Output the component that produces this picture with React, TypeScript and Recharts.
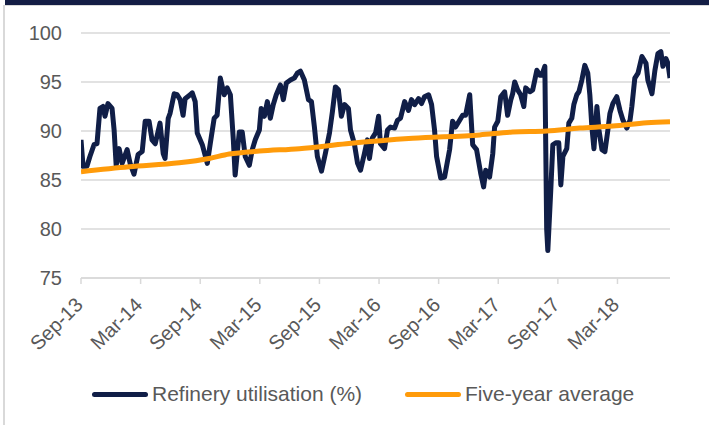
import { LineChart, Line, XAxis, YAxis, CartesianGrid, Legend } from 'recharts'

// weeks since early Sep 2013
const utilWeeks = [
  0, 0.9, 2.6, 3.9, 5.7, 7.0, 8.3, 9.6, 10.5, 11.8, 13.6, 14.5, 15.4, 16.7, 18.0, 20.2,
  21.5, 23.2, 25.0, 26.8, 28.1, 29.8, 31.1, 32.5, 34.6, 36.0, 36.8, 38.2, 39.0, 40.8,
  42.1, 43.4, 44.7, 45.6, 47.8, 48.7, 50.0, 50.9, 53.1, 55.3, 56.6, 58.3, 59.6, 61.0,
  62.7, 64.0, 65.4, 66.7, 67.5, 69.3, 70.6, 71.9, 73.7, 75.0, 76.3, 78.1, 78.9, 80.3,
  81.6, 82.9, 84.2, 85.5, 87.3, 88.6, 89.9, 91.7, 93.4, 94.7, 96.1, 97.8, 99.6, 100.9,
  102.2, 103.5, 105.3, 107.0, 108.8, 110.1, 111.4, 112.7, 114.0, 115.4, 117.1, 118.0,
  119.7, 121.1, 122.4, 124.1, 125.4, 126.3, 127.6, 129.0, 130.3, 131.1, 132.9, 134.2,
  135.5, 137.3, 138.6, 139.9, 141.7, 143.4, 144.7, 146.1, 147.8, 149.1, 150.4, 152.2,
  153.5, 154.8, 155.7, 157.5, 159.2, 161.4, 162.7, 164.0, 165.8, 167.1, 168.4, 170.2,
  171.5, 173.2, 175.0, 176.3, 177.2, 178.9, 180.3, 181.1, 182.5, 183.8, 185.5, 186.8,
  188.2, 189.0, 189.9, 191.2, 192.5, 193.9, 194.7, 196.5, 197.8, 198.7, 199.6, 200.9,
  201.8, 203.1, 203.9, 204.4, 205.7, 206.6, 207.9, 209.2, 210.1, 211.0, 212.7, 213.6,
  214.9, 215.8, 217.1, 218.0, 219.3, 220.6, 221.9, 222.8, 223.7, 224.6, 225.9, 226.8,
  228.1, 229.4, 230.7, 231.6, 232.9, 234.6, 236.0, 237.3, 239.0, 240.4, 241.2, 242.5,
  243.9, 245.6, 247.4, 248.2, 250.0, 251.3, 252.6, 253.9, 254.8, 256.1, 257.0, 257.9,
]

const utilValues = [
  89.1, 86.4, 86.4, 87.4, 88.6, 88.7, 92.3, 92.5, 91.5, 92.8, 92.3, 90.1, 86.5, 88.2, 86.7, 88.1,
  86.7, 85.6, 87.6, 87.9, 91.0, 91.0, 89.1, 88.7, 90.8, 87.7, 87.2, 91.3, 91.8, 93.8,
  93.7, 93.2, 91.6, 93.3, 93.7, 93.9, 93.0, 89.8, 88.6, 86.7, 88.7, 91.3, 91.6, 95.4,
  93.7, 94.4, 93.7, 89.1, 85.5, 89.9, 89.9, 87.4, 86.5, 88.1, 89.1, 90.1, 92.3, 91.5,
  93.0, 91.3, 92.7, 93.7, 94.7, 93.2, 94.9, 95.2, 95.4, 95.9, 96.1, 95.2, 93.2, 93.0,
  90.4, 87.4, 85.9, 87.7, 89.8, 92.0, 94.5, 94.2, 91.5, 92.7, 92.3, 90.1,
  88.7, 86.7, 86.0, 87.7, 89.1, 87.2, 89.3, 89.8, 91.5, 88.7, 88.2, 90.1,
  90.4, 90.3, 91.1, 91.3, 93.0, 92.1, 93.2, 92.7, 93.3, 92.8, 93.5, 93.7,
  92.7, 90.1, 87.4, 85.2, 85.3, 88.1, 91.0, 90.4, 91.1, 91.6, 91.6, 93.7,
  88.6, 88.1, 85.7, 84.3, 86.0, 85.3, 87.7, 90.4, 91.0, 93.5, 94.0, 91.6,
  93.2, 93.8, 95.0, 94.2, 93.7, 92.5, 94.4, 94.0, 94.2, 95.2, 96.2, 95.7,
  95.7, 96.6, 80.0, 77.8, 84.0, 88.6, 88.8, 88.8, 84.5, 87.4, 88.2, 90.8,
  91.3, 92.7, 93.7, 94.0, 95.2, 96.7, 95.9, 93.7, 90.4, 88.2, 92.5, 90.1,
  88.1, 87.9, 90.1, 91.8, 92.8, 93.5, 92.1, 91.1, 90.3, 91.1, 92.5, 95.4,
  95.9, 97.6, 96.9, 95.2, 93.8, 96.2, 97.9, 98.1, 96.6, 97.4, 96.9, 95.4,
]

const avgWeeks = [0, 21.1, 43.0, 56.1, 64.9, 78.1, 95.6, 116.2, 145.2, 174.6, 189.0, 203.9, 218.4, 232.9, 247.8, 257.9]
const avgValues = [85.85, 86.35, 86.75, 87.2, 87.65, 87.95, 88.2, 88.7, 89.25, 89.6, 89.9, 90.0, 90.3, 90.5, 90.85, 90.95]

const tickWeeks = [0, 26.1, 52.2, 78.3, 104.4, 130.5, 156.6, 182.7, 208.8, 234.9]
const tickLabels = ['Sep-13', 'Mar-14', 'Sep-14', 'Mar-15', 'Sep-15', 'Mar-16', 'Sep-16', 'Mar-17', 'Sep-17', 'Mar-18']
const yTicks = [75, 80, 85, 90, 95, 100]

const NAVY = '#101e47'
const ORANGE = '#ff9b0a'
const TEXT = '#595959'
const GRID = '#d9d9d9'
const FONT = '"Liberation Sans", Arial, sans-serif'

const utilData = utilWeeks.map((w, i) => ({ w, v: utilValues[i] }))
const avgData = avgWeeks.map((w, i) => ({ w, v: avgValues[i] }))

function XTick(props: any) {
  const { x, y, payload } = props
  const idx = tickWeeks.indexOf(payload.value)
  const ax = x + 3
  const ay = y + 20
  return (
    <text
      x={ax}
      y={ay}
      textAnchor="end"
      fill={TEXT}
      fontSize={20}
      fontFamily={FONT}
      transform={`rotate(-45, ${ax}, ${ay})`}
    >
      {tickLabels[idx] ?? ''}
    </text>
  )
}

const LEGEND_ITEMS = [
  { label: 'Refinery utilisation (%)', color: NAVY, width: 313 },
  { label: 'Five-year average', color: ORANGE, width: 240 },
]

function ChartLegend() {
  return (
    <div style={{ display: 'flex', alignItems: 'flex-start', paddingLeft: 92, paddingTop: 7, height: 50, boxSizing: 'border-box' }}>
      {LEGEND_ITEMS.map(it => (
        <div key={it.label} style={{ display: 'flex', alignItems: 'center', width: it.width, height: 24 }}>
          <span style={{ display: 'inline-block', width: 56, height: 5, borderRadius: 3, background: it.color }} />
          <span style={{ marginLeft: 4, fontSize: 21, color: TEXT, fontFamily: FONT, whiteSpace: 'nowrap' }}>{it.label}</span>
        </div>
      ))}
    </div>
  )
}

export default function App() {
  return (
    <div style={{ position: 'absolute', left: 0, top: 0, width: 709, height: 425, background: '#fff', overflow: 'hidden' }}>
      <div style={{ position: 'absolute', left: 5, top: 0, right: 0, height: 5, background: '#131d45' }} />
      <div style={{ position: 'absolute', left: 3, top: 5, right: -2, bottom: -2, borderLeft: `2px solid ${GRID}`, borderTop: `1px solid ${GRID}` }} />
      <div style={{ position: 'absolute', left: 0, top: 0 }}>
        <LineChart width={709} height={425} margin={{ top: 33, right: 39, left: 0, bottom: 0 }}>
          <CartesianGrid vertical={false} stroke={GRID} strokeWidth={1.5} />
          <XAxis
            type="number"
            dataKey="w"
            domain={[0, 257.9]}
            ticks={tickWeeks}
            interval={0}
            height={97}
            tick={<XTick />}
            tickSize={6}
            tickMargin={2}
            axisLine={{ stroke: GRID, strokeWidth: 1.5 }}
            tickLine={{ stroke: GRID, strokeWidth: 1.5 }}
            allowDataOverflow
          />
          <YAxis
            type="number"
            domain={[75, 100]}
            ticks={yTicks}
            width={81}
            axisLine={false}
            tickLine={false}
            tickSize={0}
            tickMargin={19}
            tick={{ fill: TEXT, fontSize: 20, fontFamily: FONT }}
          />
          <Legend verticalAlign="bottom" align="left" content={() => <ChartLegend />} wrapperStyle={{ left: 0, width: 709 }} />
          <Line
            data={utilData}
            dataKey="v"
            type="linear"
            stroke={NAVY}
            strokeWidth={5}
            strokeLinejoin="round"
            dot={false}
            isAnimationActive={false}
            legendType="none"
          />
          <Line
            data={avgData}
            dataKey="v"
            type="monotone"
            stroke={ORANGE}
            strokeWidth={5}
            dot={false}
            isAnimationActive={false}
            legendType="none"
          />
        </LineChart>
      </div>
    </div>
  )
}
